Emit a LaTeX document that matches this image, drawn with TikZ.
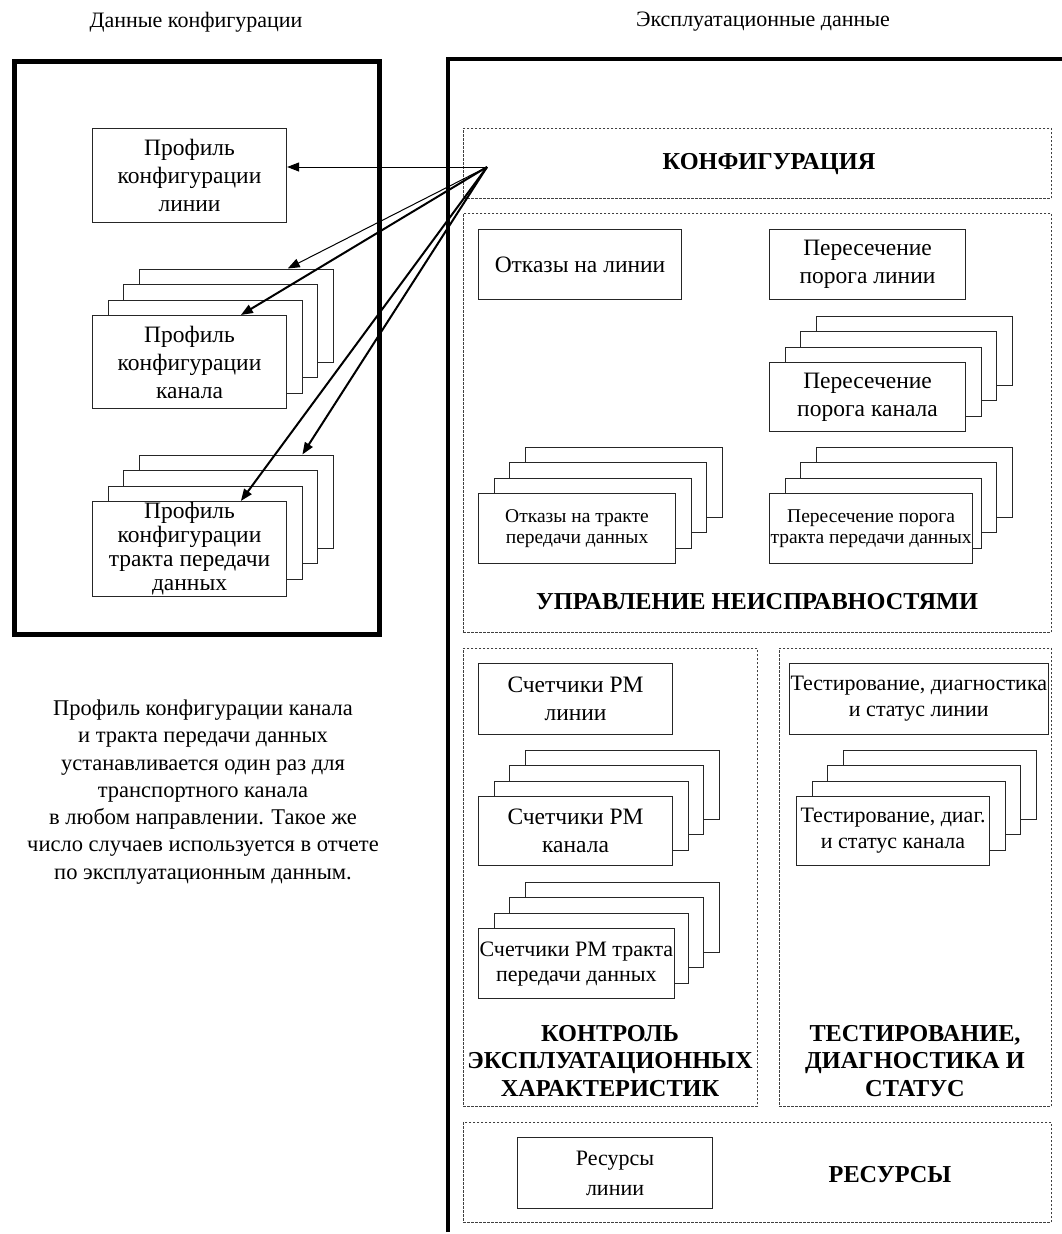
\documentclass[tikz,border=0pt]{standalone}
\usepackage{fontspec}
\setmainfont{Liberation Serif}
\usetikzlibrary{arrows.meta,calc}

% A card with three copies stacked behind it, each shifted up and to the right.
% #1 name, #2 x, #3 y (top left of the front card), #4 width, #5 height, #6 text style, #7 text
\newcommand\stackedbox[7]{%
  \foreach \k in {3,2,1}{%
    \node[cell,minimum width=#4pt,minimum height=#5pt,anchor=north west]
      (#1-\k) at ({#2+15.5*\k},{#3-15.5*\k}) {};
  }
  \node[cell,#6,minimum width=#4pt,minimum height=#5pt,anchor=north west]
    (#1) at (#2,#3) {#7};
}

\begin{document}
\begin{tikzpicture}[x=1pt,y=-1pt,
  cell/.style={draw=black!85,line width=1.1pt,fill=white,align=center,inner sep=1pt},
  area/.style={draw=black!75,line width=0.9pt,dash pattern=on 2.5pt off 1.5pt,anchor=north west,inner sep=0pt},
  heavy/.style={draw=black,line width=4.5pt},
  tbig/.style={font=\fontsize{23.5}{28}\selectfont},
  tdense/.style={font=\fontsize{23.5}{24}\selectfont},
  tmid/.style={font=\fontsize{22}{26}\selectfont},
  tsmall/.style={font=\fontsize{19.5}{20.5}\selectfont},
  head/.style={font=\fontsize{24.3}{27.5}\selectfont\bfseries,align=center},
  caption/.style={font=\fontsize{22}{27.3}\selectfont,align=center},
  link/.style={-{Triangle[length=12pt,width=9pt]},line width=1pt},
  linkbold/.style={link,line width=2pt}
]
\useasboundingbox (0,0) rectangle (1062,1234);

% column titles
\node[caption] (ttlcfg) at (196,22) {Данные конфигурации};
\node[caption] (ttlops) at (763,22) {Эксплуатационные данные};

% configuration data frame
\node[heavy,minimum width=365pt,minimum height=573pt,anchor=north west,inner sep=0pt] (cfgframe) at (12,59) {};
% performance data frame: open on the right and at the bottom
\coordinate (opsA) at (448,1232);
\coordinate (opsB) at (448,59);
\coordinate (opsC) at (1062,59);
\draw[black,line width=4.5pt] (opsA) -- (opsB) -- (opsC);

% configuration profiles
\node[cell,tbig,minimum width=194pt,minimum height=94pt,anchor=north west] (profline) at (92,128)
  {Профиль\\конфигурации\\линии};
\stackedbox{profchan}{92}{315}{194}{93}{tbig}{Профиль\\конфигурации\\канала}
\stackedbox{profpath}{92}{501}{194}{93}{tdense}{Профиль\\конфигурации\\тракта передачи\\данных}

\node[caption,font=\fontsize{22.5}{27.3}\selectfont] (note) at (203,792)
  {Профиль конфигурации канала\\и тракта передачи данных\\устанавливается один раз для\\транспортного канала\\в любом направлении. Такое же\\число случаев используется в отчете\\по эксплуатационным данным.};

% configuration area
\node[area,minimum width=588pt,minimum height=70pt] (cfgarea) at (463,128) {};
\node[head] (cfghead) at (769,164) {КОНФИГУРАЦИЯ};

% fault management area
\node[area,minimum width=588pt,minimum height=419pt] (faultarea) at (463,213) {};
\node[cell,tbig,minimum width=203pt,minimum height=70pt,anchor=north west] (failline) at (478,229)
  {Отказы на линии};
\node[cell,tbig,minimum width=196pt,minimum height=70pt,anchor=north west] (thrline) at (769,229)
  {Пересечение\\порога линии};
\stackedbox{thrchan}{769}{362}{196}{69}{tbig}{Пересечение\\порога канала}
\stackedbox{failpath}{478}{493}{197}{70}{tsmall}{Отказы на тракте\\передачи данных}
\stackedbox{thrpath}{769}{493}{196}{70}{tsmall}{Пересечение порога\\тракта передачи данных}
\node[head] (faulthead) at (757,602) {УПРАВЛЕНИЕ НЕИСПРАВНОСТЯМИ};

% performance monitoring area
\node[area,minimum width=294pt,minimum height=458pt] (pmarea) at (463,648) {};
\node[cell,tbig,minimum width=194pt,minimum height=71pt,anchor=north west] (pmline) at (478,663)
  {Счетчики PM\\линии};
\stackedbox{pmchan}{478}{796}{194}{69}{tbig}{Счетчики PM\\канала}
\stackedbox{pmpath}{478}{928}{194}{70}{font=\fontsize{22}{25}\selectfont}{Счетчики PM тракта\\передачи данных}
\node[head] (pmhead) at (610,1061) {КОНТРОЛЬ\\ЭКСПЛУАТАЦИОННЫХ\\ХАРАКТЕРИСТИК};

% testing area
\node[area,minimum width=272pt,minimum height=458pt] (testarea) at (779,648) {};
\node[cell,tmid,minimum width=252pt,minimum height=71pt,anchor=north west] (testline) at (789,663)
  {Тестирование, диагностика\\и статус линии};
\stackedbox{testchan}{796}{796}{193}{69}{tmid}{Тестирование, диаг.\\и статус канала}
\node[head] (testhead) at (915,1061) {ТЕСТИРОВАНИЕ,\\ДИАГНОСТИКА И\\СТАТУС};

% resources area
\node[area,minimum width=588pt,minimum height=100pt] (resarea) at (463,1122) {};
\node[cell,font=\fontsize{22}{30}\selectfont,minimum width=195pt,minimum height=71pt,anchor=north west] (resline) at (517,1137)
  {Ресурсы\\линии};
\node[head] (reshead) at (890,1175) {РЕСУРСЫ};

% configuration references
\coordinate (src) at (487,167);
\draw[link] (src) -- (profline.east |- src);
\draw[link] (src) -- ($(profchan-3.north west)!0.765!(profchan-3.north east)$);
\draw[linkbold] (src) -- ($(profchan.north west)!0.763!(profchan.north east)$);
\draw[linkbold] (src) -- ($(profpath.north west)!0.763!(profpath.north east)$);
\draw[linkbold] (src) -- ($(profpath-3.north west)!0.84!(profpath-3.north east)$);
\end{tikzpicture}
\end{document}
